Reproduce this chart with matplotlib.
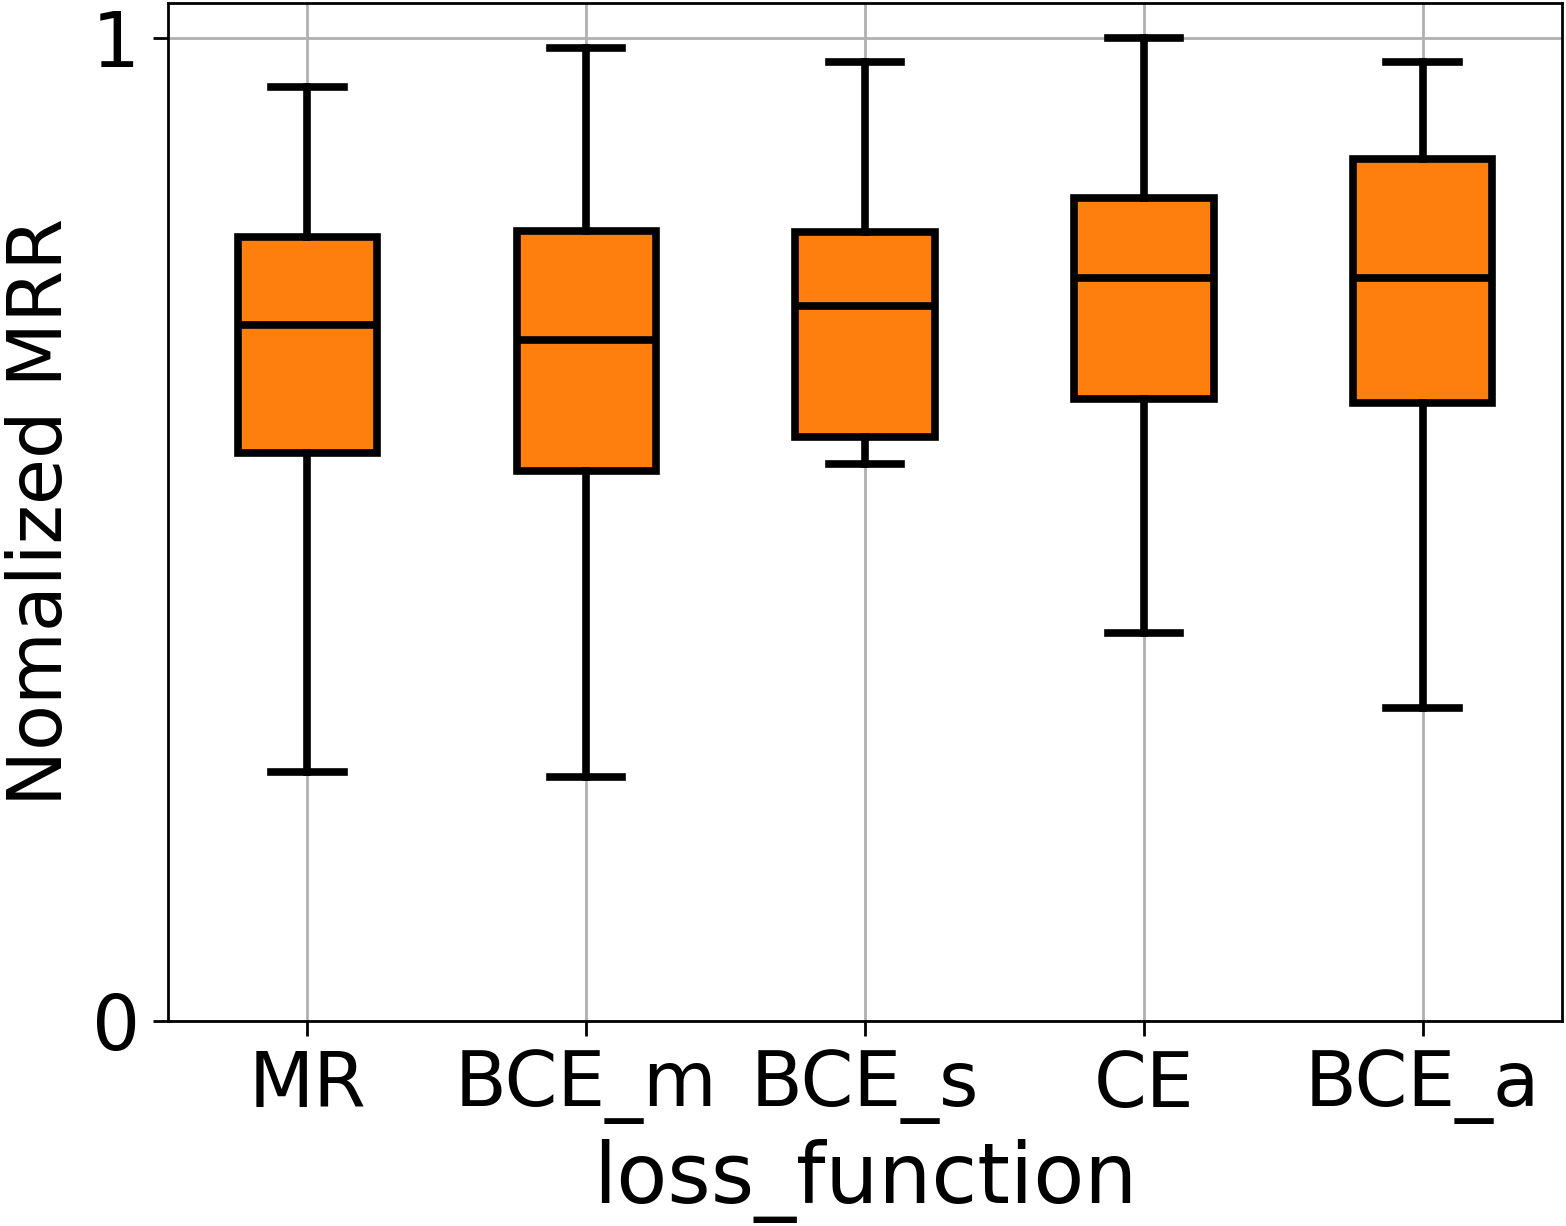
import matplotlib
matplotlib.use("Agg")
import matplotlib.pyplot as plt

categories = ["MR", "BCE_m", "BCE_s", "CE", "BCE_a"]
whislo = [0.253, 0.248, 0.567, 0.395, 0.319]
q1 = [0.578, 0.560, 0.594, 0.633, 0.629]
med = [0.708, 0.693, 0.728, 0.756, 0.756]
q3 = [0.798, 0.804, 0.803, 0.838, 0.877]
whishi = [0.951, 0.990, 0.976, 1.000, 0.976]

stats = []
for i, c in enumerate(categories):
    stats.append(dict(label=c, whislo=whislo[i], q1=q1[i], med=med[i],
                      q3=q3[i], whishi=whishi[i], fliers=[]))

fig = plt.figure(figsize=(15.66, 12.26), dpi=100)
ax = fig.add_axes([168/1566, 1-1021/1226, (1562-168)/1566, (1021-3)/1226])
ax.set_axisbelow(True)
ax.grid(True, color="#b0b0b0", linewidth=2)
lw = 5.5
ax.bxp(stats, widths=0.5, patch_artist=True, showfliers=False,
       boxprops=dict(facecolor="#ff7f0e", edgecolor="black", linewidth=lw),
       medianprops=dict(color="black", linewidth=lw),
       whiskerprops=dict(color="black", linewidth=lw),
       capprops=dict(color="black", linewidth=lw),
       capwidths=0.26)
ax.set_xlim(0.5, 5.5)
ax.set_ylim(0, 1.036)
ax.set_yticks([0, 1])
ax.set_yticklabels(["0", "1"])
ax.tick_params(labelsize=54.5, width=2, length=11, pad=9)
for s in ax.spines.values():
    s.set_linewidth(2)
ax.set_xlabel("loss_function", fontsize=60, labelpad=11)
ax.set_ylabel("Nomalized MRR", fontsize=54, labelpad=10.5)
fig.savefig("out.png", dpi=100)
